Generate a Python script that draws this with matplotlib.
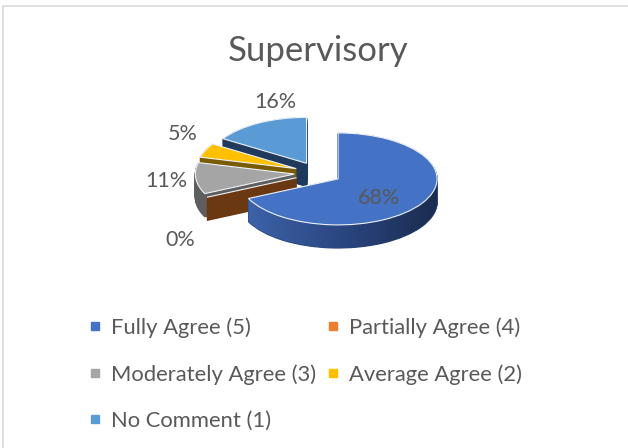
import numpy as np
import matplotlib
matplotlib.use("Agg")
import matplotlib.pyplot as plt
from matplotlib.lines import Line2D
from matplotlib.patches import Rectangle, Polygon
from matplotlib.colors import LinearSegmentedColormap

plt.rcParams['font.family'] = ['Lato', 'DejaVu Sans']

# data
categories = ['Fully Agree (5)', 'Partially Agree (4)', 'Moderately Agree (3)',
              'Average Agree (2)', 'No Comment (1)']
shares = [68, 0, 11, 5, 16]
pct_labels = ['68%', '0%', '11%', '5%', '16%']

top_cols = ['#4472c4', '#ed7d31', '#a5a5a5', '#ffc000', '#5b9bd5']
side_cols = ['#2b467c', '#6b3812', '#5e5e5e', '#7a5c00', '#1f3a5c']
txt_col = '#595959'

W, H = 628, 448
cx, cy = 318, 173       # pie centre in pixels
rx, ry = 99, 46         # ellipse radii in pixels
depth = 0.5             # thickness in y units
expl = [0.24] * len(shares)

fig = plt.figure(figsize=(W / 100, H / 100), dpi=100)
ax = fig.add_axes([0, 0, 1, 1])

# extruded side: stack of darker pies
for d in np.linspace(depth, 0, 40)[:-1]:
    ax.pie(shares, explode=expl, colors=side_cols, startangle=90,
           counterclock=False, center=(0, -d),
           wedgeprops=dict(linewidth=1.0))
    for w, c in zip(ax.patches[-len(shares):], side_cols):
        w.set_edgecolor(c)

# top face
wedges, _ = ax.pie(shares, explode=expl, colors=top_cols, startangle=90,
                   counterclock=False,
                   wedgeprops=dict(linewidth=0.8, edgecolor='#eef2f8'))

# shaded front wall of the biggest slice
big = wedges[0]
ox, oy = big.center
t = np.deg2rad(np.linspace(big.theta1, 0, 80))
xs = ox + np.cos(t)
ys = oy + np.sin(t)
wall = Polygon(np.r_[np.c_[xs, ys], np.c_[xs[::-1], ys[::-1] - depth]],
               closed=True, facecolor='none', edgecolor='none')
ax.add_patch(wall)
grad = LinearSegmentedColormap.from_list('side', ['#3d62a8', '#2a4680', '#1b2c4f'])
img = ax.imshow(np.linspace(0, 1, 256)[None, :], cmap=grad, aspect='auto',
                extent=(xs.min(), xs.max(), ys.min() - depth, ys.max()),
                zorder=1.5)
img.set_clip_path(wall)
for w in wedges:
    w.set_zorder(2)

ax.set_aspect('auto')
ax.set_xlim(-cx / rx, (W - cx) / rx)
ax.set_ylim(-(H - cy) / ry, cy / ry)
ax.axis('off')

# percentage labels, anchored on the rim along each slice bisector
offsets = [(-31, 4), (-19, -31), (-21, -2), (-16, 12), (12, 15)]
for w, lab, e, off in zip(wedges, pct_labels, expl, offsets):
    ang = np.deg2rad((w.theta1 + w.theta2) / 2)
    r = 1 + e
    ax.annotate(lab, (r * np.cos(ang), r * np.sin(ang)), xytext=off,
                textcoords='offset points', ha='center', va='center',
                fontsize=15.5, color=txt_col, zorder=5)

fig.text(318 / W, 1 - 51 / H, 'Supervisory', ha='center', va='center',
         fontsize=25, color=txt_col)

# legend, filled row by row
order = [0, 2, 4, 1, 3]
handles = [Line2D([], [], marker='s', linestyle='none', markersize=5.5,
                  color=top_cols[i]) for i in order]
fig.legend(handles, [categories[i] for i in order], ncol=2,
           loc='upper left', bbox_to_anchor=(88 / W, 1 - 317 / H),
           frameon=False, fontsize=15.8, labelcolor=txt_col,
           handlelength=0.6, handletextpad=0.45, labelspacing=1.2,
           columnspacing=0.45, borderaxespad=0, borderpad=0)

# chart border (only top and left edges are visible)
fig.patches.append(Rectangle((3.5 / W, -0.1), 1.2, 1 - 6 / H + 0.1,
                             transform=fig.transFigure, fill=False,
                             edgecolor='#d9d9d9', linewidth=1.2))

fig.savefig('out.png', dpi=100)
